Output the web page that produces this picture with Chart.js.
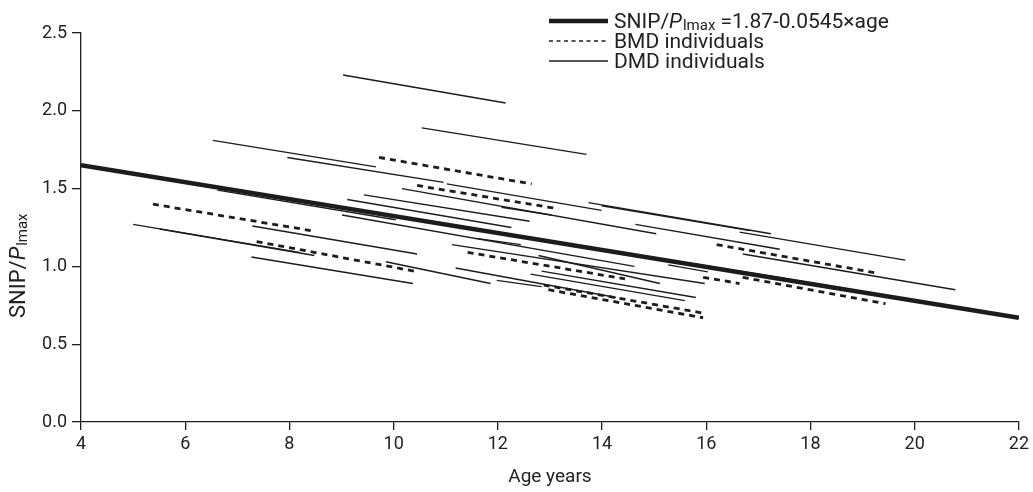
<!DOCTYPE html>
<html><head><meta charset="utf-8">
<script src="https://cdn.jsdelivr.net/npm/chart.js@4.4.1/dist/chart.umd.min.js"></script>
<style>html,body{margin:0;padding:0;background:#fff}</style>
</head><body>
<canvas id="c" width="1033" height="492"></canvas>
<script>
// ---- data ----
const xTickValues = [4, 6, 8, 10, 12, 14, 16, 18, 20, 22];
const yTickValues = [0, 0.5, 1.0, 1.5, 2.0, 2.5];
// first legend label split into: plain, italic, subscript, plain
const legendLabel1Parts = ["SNIP/", "P", "lmax", " =1.87-0.0545×age"];
const legendLabels = ["BMD individuals", "DMD individuals"];
const yAxisTitleParts = ["SNIP/", "P", "lmax"];
const xAxisTitle = "Age years";
// regression line endpoints [age, SNIP/Plmax]
const regressionLine = [[4, 1.65], [22, 0.67]];
// individual segments: [startAge, startValue, endAge, endValue]
const bmdSegments = [
  [5.38, 1.40, 8.42, 1.23],
  [7.37, 1.16, 10.39, 0.97],
  [9.72, 1.70, 12.65, 1.53],
  [10.45, 1.52, 13.16, 1.37],
  [11.42, 1.09, 14.44, 0.92],
  [12.88, 0.88, 15.94, 0.70],
  [12.97, 0.85, 15.94, 0.67],
  [16.20, 1.14, 19.23, 0.96],
  [15.94, 0.93, 16.64, 0.89],
  [16.70, 0.93, 19.44, 0.76]
];
const dmdSegments = [
  [9.03, 2.23, 12.15, 2.05],
  [10.54, 1.89, 13.70, 1.72],
  [6.53, 1.81, 9.66, 1.64],
  [7.96, 1.70, 10.96, 1.54],
  [11.02, 1.53, 13.99, 1.36],
  [10.16, 1.50, 15.04, 1.21],
  [9.43, 1.46, 12.61, 1.29],
  [9.11, 1.43, 12.26, 1.25],
  [6.62, 1.49, 10.04, 1.30],
  [9.01, 1.33, 14.62, 1.00],
  [7.29, 1.26, 10.45, 1.08],
  [7.27, 1.06, 10.37, 0.89],
  [5.00, 1.27, 8.19, 1.09],
  [5.51, 1.24, 8.48, 1.07],
  [11.59, 1.18, 12.44, 1.14],
  [11.12, 1.14, 15.97, 0.89],
  [12.78, 1.07, 15.11, 0.89],
  [12.84, 0.97, 15.80, 0.80],
  [12.63, 0.95, 15.59, 0.78],
  [9.85, 1.03, 11.86, 0.89],
  [11.19, 0.99, 14.27, 0.80],
  [11.98, 0.91, 12.84, 0.87],
  [15.27, 1.01, 16.03, 0.965],
  [13.74, 1.41, 17.24, 1.21],
  [13.99, 1.39, 16.84, 1.23],
  [14.64, 1.27, 17.41, 1.11],
  [16.64, 1.22, 19.82, 1.04],
  [16.70, 1.08, 20.78, 0.85],
  [15.69, 1.02, 18.65, 0.86],
  [12.07, 1.38, 13.03, 1.33]
];

// ---- styles ----
const INK = '#1c1c1c';
const FONT = 'Roboto, "Liberation Sans", Arial, sans-serif';

function seg(s) { return [{x: s[0], y: s[1]}, {x: s[2], y: s[3]}]; }

const datasets = [];
dmdSegments.forEach(s => datasets.push({
  data: seg(s), borderColor: INK, borderWidth: 1.4, pointRadius: 0, fill: false
}));
bmdSegments.forEach(s => datasets.push({
  data: seg(s), borderColor: INK, borderWidth: 2.8, borderDash: [6, 5], pointRadius: 0, fill: false
}));
datasets.push({
  data: regressionLine.map(p => ({x: p[0], y: p[1]})),
  borderColor: INK, borderWidth: 4.6, pointRadius: 0, fill: false
});

function drawRich(ctx, parts, x, y, size, subSize) {
  ctx.font = size + 'px ' + FONT;
  ctx.fillText(parts[0], x, y); x += ctx.measureText(parts[0]).width;
  ctx.font = 'italic ' + size + 'px ' + FONT;
  ctx.fillText(parts[1], x, y); x += ctx.measureText(parts[1]).width + 1;
  ctx.font = subSize + 'px ' + FONT;
  ctx.fillText(parts[2], x, y + 2); x += ctx.measureText(parts[2]).width;
  if (parts[3]) {
    ctx.font = size + 'px ' + FONT;
    ctx.fillText(parts[3], x, y);
  }
}

const textPlugin = {
  id: 'texts',
  afterDraw(chart) {
    const ctx = chart.ctx;
    ctx.save();
    ctx.fillStyle = '#222';
    // x-axis title
    ctx.font = '19px ' + FONT;
    ctx.textAlign = 'center';
    ctx.textBaseline = 'middle';
    ctx.fillText(xAxisTitle, (chart.chartArea.left + chart.chartArea.right) / 2, 477);

    // y-axis title (rotated)
    ctx.save();
    ctx.translate(25, 318);
    ctx.rotate(-Math.PI / 2);
    ctx.textAlign = 'left';
    ctx.textBaseline = 'alphabetic';
    drawRich(ctx, yAxisTitleParts, 0, 0, 22, 15);
    ctx.restore();

    // legend
    const lx0 = 549, lx1 = 608, tx = 614;
    const rows = [21, 41, 61];
    ctx.strokeStyle = INK;
    ctx.lineWidth = 4.5; ctx.setLineDash([]);
    ctx.beginPath(); ctx.moveTo(lx0, rows[0]); ctx.lineTo(lx1, rows[0]); ctx.stroke();
    ctx.lineWidth = 1.5; ctx.setLineDash([4, 3.5]);
    ctx.beginPath(); ctx.moveTo(lx0, rows[1]); ctx.lineTo(lx1, rows[1]); ctx.stroke();
    ctx.lineWidth = 1.3; ctx.setLineDash([]);
    ctx.beginPath(); ctx.moveTo(lx0, rows[2]); ctx.lineTo(lx1, rows[2]); ctx.stroke();

    ctx.textAlign = 'left';
    ctx.textBaseline = 'alphabetic';
    drawRich(ctx, legendLabel1Parts, tx, rows[0] + 7, 21, 15);
    ctx.font = '21px ' + FONT;
    ctx.fillText(legendLabels[0], tx, rows[1] + 7);
    ctx.fillText(legendLabels[1], tx, rows[2] + 7);
    ctx.restore();
  }
};

new Chart(document.getElementById('c'), {
  type: 'line',
  data: { datasets },
  options: {
    responsive: false,
    animation: false,
    layout: { padding: { top: 33, right: 11, left: 0, bottom: 0 } },
    plugins: { legend: { display: false }, tooltip: { enabled: false } },
    elements: { line: { tension: 0, borderCapStyle: 'butt' } },
    scales: {
      x: {
        type: 'linear', min: 4, max: 22,
        afterBuildTicks: s => { s.ticks = xTickValues.map(v => ({value: v})); },
        ticks: { color: '#222', font: { family: FONT, size: 18 }, padding: 4, maxRotation: 0, autoSkip: false },
        grid: { drawOnChartArea: false, drawTicks: true, tickLength: 8, color: INK, lineWidth: 1.3 },
        border: { display: true, color: INK, width: 1.3 },
        afterFit: s => { s.height = 70; }
      },
      y: {
        type: 'linear', min: 0, max: 2.5,
        afterBuildTicks: s => { s.ticks = yTickValues.map(v => ({value: v})); },
        ticks: { color: '#222', font: { family: FONT, size: 18 }, padding: 5,
                 callback: v => Number(v).toFixed(1) },
        grid: { drawOnChartArea: false, drawTicks: true, tickLength: 9, color: INK, lineWidth: 1.3 },
        border: { display: true, color: INK, width: 1.3 },
        afterFit: s => { s.width = 81; }
      }
    }
  },
  plugins: [textPlugin]
});
</script>
</body></html>
